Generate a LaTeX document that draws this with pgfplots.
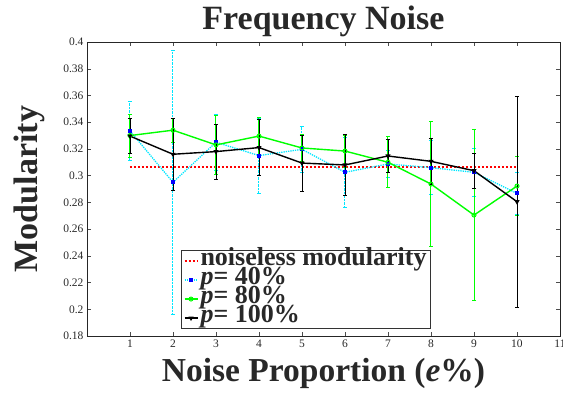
\documentclass[border=0pt]{standalone}
\usepackage{fontspec}
\setmainfont{Liberation Serif}
\usepackage{pgfplots}
\pgfplotsset{compat=1.18}
\usepackage{pgfplotstable}
\definecolor{mygreen}{RGB}{0,255,0}
\definecolor{mycyan}{RGB}{0,230,255}
\definecolor{txt}{RGB}{40,40,40}
\pgfplotstableread{
x y e
1 0.3334 0.022
2 0.2950 0.099
3 0.3250 0.021
4 0.3150 0.028
5 0.3197 0.0175
6 0.3025 0.026
7 0.3087 0.010
8 0.3060 0.020
9 0.3025 0.018
10 0.2867 0.016
}\pforty
\pgfplotstableread{
x y e
1 0.3300 0.016
2 0.3340 0.009
3 0.3230 0.022
4 0.3296 0.014
5 0.3207 0.010
6 0.3184 0.012
7 0.3100 0.019
8 0.2937 0.047
9 0.2705 0.064
10 0.2922 0.022
}\peighty
\pgfplotstableread{
x y e
1 0.3296 0.013
2 0.3160 0.027
3 0.3180 0.0205
4 0.3210 0.021
5 0.3094 0.021
6 0.3080 0.023
7 0.3147 0.0125
8 0.3107 0.017
9 0.3037 0.013
10 0.2805 0.079
}\phundred
\begin{document}
\begin{tikzpicture}[x=1pt,y=1pt]
\begin{axis}[
  at={(0,0)}, anchor=south west,
  scale only axis, width=473pt, height=294pt,
  xmin=0, xmax=11, ymin=0.18, ymax=0.4,
  xtick={1,...,11}, ytick={0.18,0.2,...,0.401},
  yticklabel style={/pgf/number format/fixed, /pgf/number format/precision=2},
  /pgf/number format/assume math mode=true,
  tick label style={font=\fontsize{11.5}{13}\selectfont, text=txt},
  tick align=inside, major tick length=4pt,
  tick style={black!70, thin},
  axis line style={black!85, line width=0.9pt},
  title={\fontsize{34}{36}\selectfont\bfseries Frequency Noise},
  title style={yshift=-4pt, text=txt},
  xlabel={\fontsize{33.5}{36}\selectfont\bfseries Noise Proportion (\textit{e}\%)},
  ylabel={\fontsize{34}{36}\selectfont\bfseries Modularity},
  xlabel style={yshift=-4pt, text=txt},
  ylabel style={yshift=12pt, text=txt},
  legend style={at={(0.199,0.024)}, anchor=south west,
    font=\fontsize{26}{19}\selectfont\bfseries, text=txt,
    draw=black!80, line width=0.8pt, inner xsep=2pt, inner ysep=1pt, row sep=0pt,
    nodes={inner ysep=0.5pt, inner xsep=2pt, text height=13pt, text depth=5pt},
    cells={anchor=west}},
  legend cell align=left,
  legend image code/.code={
    \draw[mark repeat=2, mark phase=2, #1] plot coordinates {(0pt,0pt) (6.5pt,0pt) (13pt,0pt)};
  },
  clip=false,
]
\addplot[red, line width=2pt, dotted, mark=none] coordinates {(1,0.3067) (10,0.3067)};
\addlegendentry{noiseless modularity}
\addplot[mycyan, line width=1.3pt, densely dotted, mark=square*, mark size=1.4pt, mark options={blue, solid},
  error bars/.cd, y dir=both, y explicit, error bar style={mycyan, densely dotted, line width=1pt}, error mark options={rotate=90, mycyan, mark size=2pt, solid, line width=0.8pt}]
  table[x=x, y=y, y error=e] {\pforty};
\addlegendentry{\textit{p}= 40\%}
\addplot[mygreen, line width=1.4pt, mark=o, mark size=2pt, mark options={solid, line width=1pt},
  error bars/.cd, y dir=both, y explicit, error bar style={mygreen, line width=1pt}, error mark options={rotate=90, mygreen, mark size=2pt, line width=0.8pt}]
  table[x=x, y=y, y error=e] {\peighty};
\addlegendentry{\textit{p}= 80\%}
\addplot[black, line width=1.4pt, mark=triangle*, mark size=1.6pt, mark options={rotate=180, solid},
  error bars/.cd, y dir=both, y explicit, error bar style={black, line width=0.9pt}, error mark options={rotate=90, black, mark size=2pt, line width=0.8pt}]
  table[x=x, y=y, y error=e] {\phundred};
\addlegendentry{\textit{p}= 100\%}
\end{axis}
\pgfresetboundingbox
\path (-87,-58) rectangle (476,336);
\end{tikzpicture}
\end{document}
